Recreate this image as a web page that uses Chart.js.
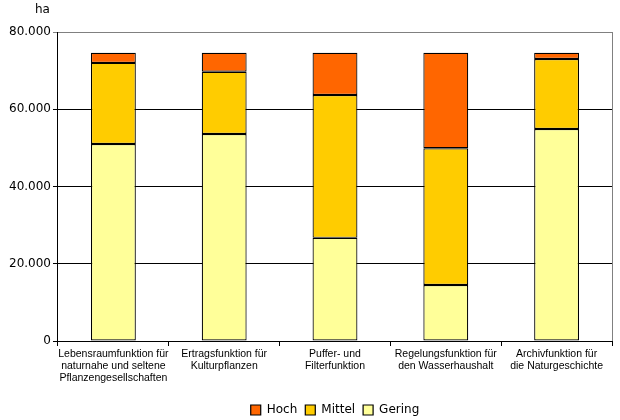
<!DOCTYPE html>
<html>
<head>
<meta charset="utf-8">
<script src="https://cdn.jsdelivr.net/npm/chart.js@4/dist/chart.umd.min.js"></script>
<style>
  html, body { margin: 0; padding: 0; background: #fff; }
  #wrap { width: 620px; height: 420px; }
</style>
</head>
<body>
<div id="wrap"><canvas id="bodenChart"></canvas></div>
<script>
const categories = [
    ['Lebensraumfunktion für', 'naturnahe und seltene', 'Pflanzengesellschaften'],
    ['Ertragsfunktion für', 'Kulturpflanzen'],
    ['Puffer- und', 'Filterfunktion'],
    ['Regelungsfunktion für', 'den Wasserhaushalt'],
    ['Archivfunktion für', 'die Naturgeschichte']
];
const gering = [51000, 53600, 26700, 14500, 54900];
const mittel = [21000, 16100, 37000, 35400, 18100];
const hoch = [2600, 4900, 10900, 24700, 1600];
const yTicks = [0, 20000, 40000, 60000, 80000];

const fmt = v => String(v).replace(/\B(?=(\d{3})+(?!\d))/g, '.');

// Einheit oben links + grauer Rahmen rechts
const extras = {
    id: 'extras',
    afterDraw(chart) {
        const { ctx, chartArea } = chart;
        ctx.save();
        ctx.strokeStyle = '#808080';
        ctx.lineWidth = 1;
        ctx.beginPath();
        ctx.moveTo(Math.round(chartArea.right) + 0.5, chartArea.top);
        ctx.lineTo(Math.round(chartArea.right) + 0.5, chartArea.bottom);
        ctx.stroke();
        ctx.fillStyle = '#000';
        ctx.font = '12px "DejaVu Sans", sans-serif';
        ctx.textAlign = 'left';
        ctx.textBaseline = 'top';
        ctx.fillText('ha', 35, 4);
        ctx.restore();
    }
};

const ds = (label, data, color) => ({
    label, data,
    backgroundColor: color,
    borderColor: '#000',
    borderWidth: 1.2,
    borderSkipped: false,
    barPercentage: 0.405,
    categoryPercentage: 1
});

new Chart(document.getElementById('bodenChart'), {
    type: 'bar',
    data: {
        labels: categories,
        datasets: [
            ds('Gering', gering, '#FFFF99'),
            ds('Mittel', mittel, '#FFCC00'),
            ds('Hoch', hoch, '#FF6600')
        ]
    },
    options: {
        responsive: true,
        maintainAspectRatio: false,
        animation: false,
        layout: { padding: { top: 32, right: 8, left: 7, bottom: -6 } },
        plugins: {
            tooltip: { enabled: false },
            legend: {
                position: 'bottom',
                fullSize: false,
                reverse: true,
                labels: {
                    boxWidth: 10,
                    boxHeight: 10,
                    padding: 8,
                    color: '#000',
                    font: { family: '"DejaVu Sans", sans-serif', size: 12 }
                }
            }
        },
        scales: {
            x: {
                stacked: true,
                border: { color: '#000' },
                grid: { drawOnChartArea: false, color: '#000', tickLength: 5 },
                afterFit: axis => { axis.height = 55; },
                ticks: {
                    color: '#000',
                    padding: 2,
                    maxRotation: 0,
                    autoSkip: false,
                    font: { family: '"Liberation Sans", sans-serif', size: 10.5, lineHeight: 1.15 }
                }
            },
            y: {
                stacked: true,
                min: 0,
                max: 80000,
                afterBuildTicks: axis => { axis.ticks = yTicks.map(v => ({ value: v })); },
                border: { color: '#000' },
                grid: {
                    color: c => (c.tick && c.tick.value === 80000 ? '#808080' : '#000'),
                    tickLength: 5
                },
                ticks: {
                    color: '#000',
                    padding: 2,
                    callback: v => fmt(v),
                    font: { family: '"DejaVu Sans", sans-serif', size: 12 }
                }
            }
        }
    },
    plugins: [extras]
});
</script>
</body>
</html>
